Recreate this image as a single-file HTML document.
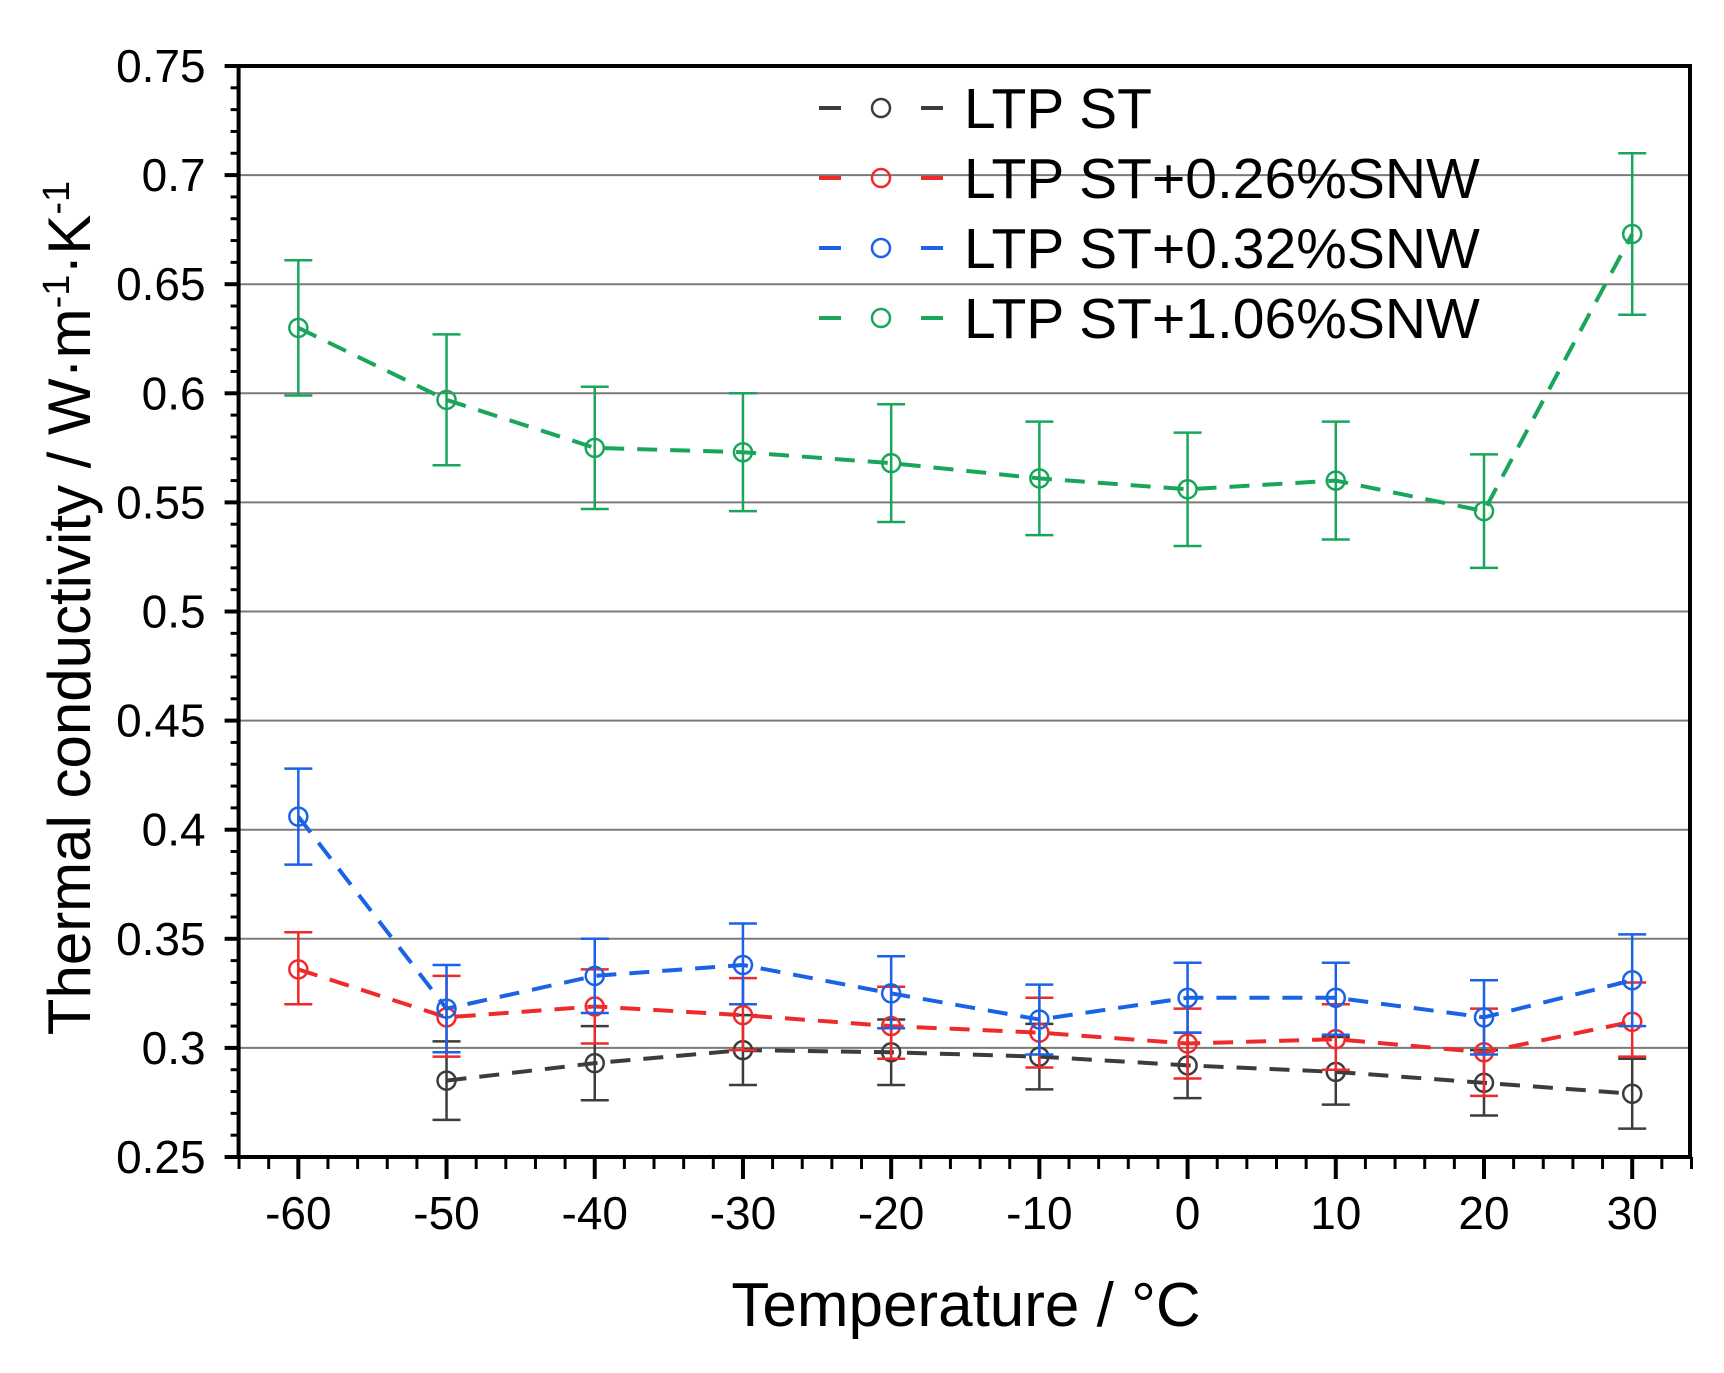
<!DOCTYPE html>
<html><head><meta charset="utf-8"><style>
html,body{margin:0;padding:0;background:#fff;}
svg{display:block;font-family:"Liberation Sans",sans-serif;}
</style></head><body>
<svg id="chart" width="1724" height="1373" viewBox="0 0 1724 1373" xmlns="http://www.w3.org/2000/svg">
<rect x="0" y="0" width="1724" height="1373" fill="#fff"/>
<g id="grid"></g>
<g id="series"></g>
<g id="axes"></g>
<g id="legend"></g>
<text x="966" y="1326" font-size="62" text-anchor="middle" fill="#000">Temperature / °C</text>
<text transform="translate(90,608) rotate(-90)" font-size="60" text-anchor="middle" fill="#000">Thermal conductivity / W·m<tspan baseline-shift="super" font-size="38">-1</tspan>·K<tspan baseline-shift="super" font-size="38">-1</tspan></text>
</svg>
<script>
const temps = [-60,-50,-40,-30,-20,-10,0,10,20,30];
const blackT = [-50,-40,-30,-20,-10,0,10,20,30];
const blackV = [0.285,0.293,0.299,0.298,0.296,0.292,0.289,0.284,0.279];
const blackLo = [0.267,0.276,0.283,0.283,0.281,0.277,0.274,0.269,0.263];
const blackHi = [0.303,0.310,0.315,0.313,0.311,0.307,0.305,0.299,0.295];
const redV = [0.336,0.314,0.319,0.315,0.310,0.307,0.302,0.304,0.298,0.312];
const redLo = [0.320,0.296,0.302,0.299,0.295,0.291,0.286,0.290,0.278,0.296];
const redHi = [0.353,0.333,0.336,0.332,0.328,0.323,0.318,0.320,0.318,0.330];
const blueV = [0.406,0.318,0.333,0.338,0.325,0.313,0.323,0.323,0.314,0.331];
const blueLo = [0.384,0.298,0.316,0.320,0.309,0.297,0.307,0.306,0.297,0.310];
const blueHi = [0.428,0.338,0.350,0.357,0.342,0.329,0.339,0.339,0.331,0.352];
const greenV = [0.630,0.597,0.575,0.573,0.568,0.561,0.556,0.560,0.546,0.673];
const greenLo = [0.599,0.567,0.547,0.546,0.541,0.535,0.530,0.533,0.520,0.636];
const greenHi = [0.661,0.627,0.603,0.600,0.595,0.587,0.582,0.587,0.572,0.710];
const yTicks = [0.25,0.3,0.35,0.4,0.45,0.5,0.55,0.6,0.65,0.7,0.75];
const yTickLabels = ["0.25","0.3","0.35","0.4","0.45","0.5","0.55","0.6","0.65","0.7","0.75"];
const xTicks = [-60,-50,-40,-30,-20,-10,0,10,20,30];
const legendLabels = ["LTP ST","LTP ST+0.26%SNW","LTP ST+0.32%SNW","LTP ST+1.06%SNW"];

const NS="http://www.w3.org/2000/svg";
const L=238.6,R=1690,T=66,B=1157;
const X0=-64.03,X1=33.9,Y0=0.25,Y1=0.75;
const sx=v=>L+(v-X0)/(X1-X0)*(R-L);
const sy=v=>B-(v-Y0)/(Y1-Y0)*(B-T);
function mk(tag,attrs,parent){const e=document.createElementNS(NS,tag);for(const k in attrs)e.setAttribute(k,attrs[k]);parent.appendChild(e);return e;}
const grid=document.getElementById('grid'),axes=document.getElementById('axes'),ser=document.getElementById('series'),leg=document.getElementById('legend');

yTicks.forEach((v,i)=>{
  if(i>0&&i<yTicks.length-1){
    const g=mk('line',{x1:L,x2:R,y1:sy(v),y2:sy(v),stroke:'#7a7a7a','stroke-width':2},grid);
    
    
  }
  const t=mk('line',{x1:L-14,x2:L,y1:sy(v),y2:sy(v),stroke:'#000','stroke-width':4},axes);
  
  
  const lb=mk('text',{x:L-33,y:sy(v)+16,'font-size':46,'text-anchor':'end',fill:'#000'},axes);
  lb.textContent=yTickLabels[i];
  
  
});
for(let v=0.26;v<0.75;v+=0.01){
  if(Math.abs(v*20-Math.round(v*20))<1e-6)continue;
  const t=mk('line',{x1:L-8,x2:L,y1:sy(v),y2:sy(v),stroke:'#000','stroke-width':3},axes);
  
  
}
xTicks.forEach(v=>{
  const t=mk('line',{x1:sx(v),x2:sx(v),y1:B,y2:B+22,stroke:'#000','stroke-width':4},axes);
  
  
  const lb=mk('text',{x:sx(v),y:B+72,'font-size':46,'text-anchor':'middle',fill:'#000'},axes);
  lb.textContent=String(v);
  
  
});
for(let v=-64;v<=34;v+=2){
  if(v%10===0)continue;
  const t=mk('line',{x1:sx(v),x2:sx(v),y1:B,y2:B+12,stroke:'#000','stroke-width':3},axes);
  
  
}
const fr=mk('rect',{x:L,y:T,width:R-L,height:B-T,fill:'none',stroke:'#000','stroke-width':4},axes);



function drawSeries(name,color,xs,vs,lo,hi){
  const g=mk('g',{},ser);
  
  
  xs.forEach((x,i)=>{
    const px=sx(x);
    const e=mk('path',{d:`M${px},${sy(lo[i])}V${sy(hi[i])}M${px-14},${sy(lo[i])}H${px+14}M${px-14},${sy(hi[i])}H${px+14}`,stroke:color,'stroke-width':2.5,fill:'none'},g);
    
    
  });
  const d=xs.map((x,i)=>(i?'L':'M')+sx(x)+','+sy(vs[i])).join('');
  const ln=mk('path',{d:d,stroke:color,'stroke-width':4,fill:'none','stroke-dasharray':'20 13'},g);
  
  
  xs.forEach((x,i)=>{
    const c=mk('circle',{cx:sx(x),cy:sy(vs[i]),r:9,fill:'none',stroke:color,'stroke-width':2.5},g);
    
    
  });
}
const colors=['#3c3c3c','#ee2a2a','#1a62e6','#1aa65a'];
drawSeries('ltp-st',colors[0],blackT,blackV,blackLo,blackHi);
drawSeries('snw-026',colors[1],temps,redV,redLo,redHi);
drawSeries('snw-032',colors[2],temps,blueV,blueLo,blueHi);
drawSeries('snw-106',colors[3],temps,greenV,greenLo,greenHi);

legendLabels.forEach((lab,i)=>{
  const y=108+i*70;
  const g=mk('g',{},leg);
  
  
  mk('path',{d:`M819,${y}H943`,stroke:colors[i],'stroke-width':4,'stroke-dasharray':'22 80'},g);
  mk('circle',{cx:881,cy:y,r:9,fill:'none',stroke:colors[i],'stroke-width':2.5},g);
  const t=mk('text',{x:964,y:y+20,'font-size':57,fill:'#000'},g);
  t.textContent=lab;
});
</script>
</body></html>
